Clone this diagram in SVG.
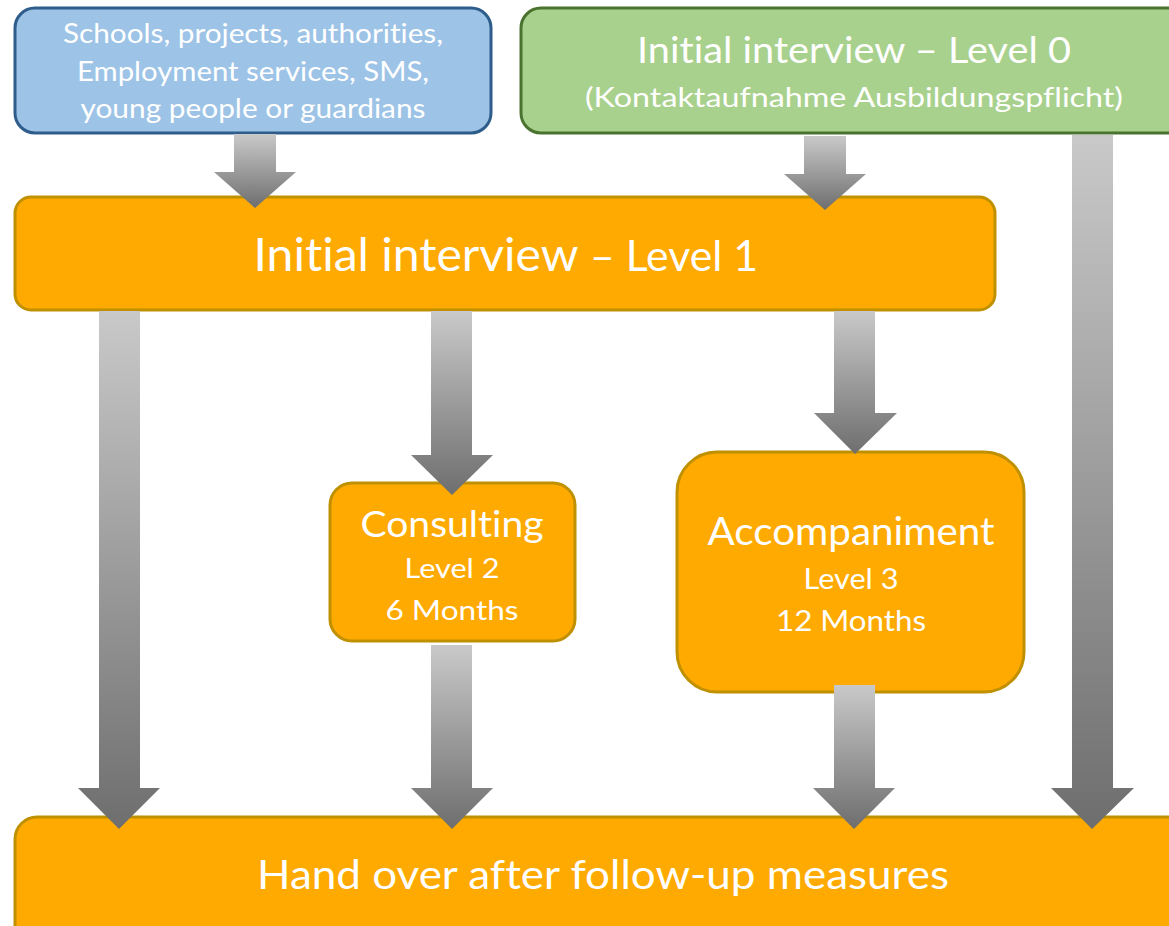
<svg xmlns="http://www.w3.org/2000/svg" width="1169" height="926" viewBox="0 0 1169 926">
<defs>
<linearGradient id="ag" x1="0" y1="0" x2="0" y2="1">
<stop offset="0" stop-color="#c9c9c9"/>
<stop offset="1" stop-color="#6e6e6e"/>
</linearGradient>
<style>
.t{font-family:Lato,"Open Sans","Liberation Sans",sans-serif;fill:#ffffff;text-anchor:middle;font-variant-ligatures:none}
.or{fill:#ffaa00;stroke:#bf9000;stroke-width:3}
.bl{fill:#9dc3e6;stroke:#2e5d8c;stroke-width:3}
.gr{fill:#a9d18e;stroke:#4a7330;stroke-width:3}
.ar{fill:url(#ag);stroke:none}
</style>
</defs>
<rect width="1169" height="926" fill="#ffffff"/>
<g id="node-sources">
<rect class="bl" x="15" y="8" width="476" height="125" rx="20"/>
<text class="t" font-size="27"><tspan x="253" y="43" textLength="380" lengthAdjust="spacingAndGlyphs">Schools, projects, authorities,</tspan><tspan x="253" y="81" textLength="352" lengthAdjust="spacingAndGlyphs">Employment services, SMS,</tspan><tspan x="253" y="118" textLength="345" lengthAdjust="spacingAndGlyphs">young people or guardians</tspan></text>
</g>
<g id="node-level0">
<rect class="gr" x="521" y="8" width="680" height="125" rx="20"/>
<text class="t" font-size="37" x="854" y="63" textLength="434" lengthAdjust="spacingAndGlyphs">Initial interview – Level 0</text>
<text class="t" font-size="27" x="854" y="107" textLength="538" lengthAdjust="spacingAndGlyphs">(Kontaktaufnahme Ausbildungspflicht)</text>
</g>
<g id="node-level1">
<rect class="or" x="15" y="197" width="980" height="113" rx="16"/>
<text class="t" font-size="46" x="416" y="271" textLength="325" lengthAdjust="spacingAndGlyphs">Initial interview</text>
<text class="t" font-size="43" x="674" y="271" textLength="168" lengthAdjust="spacingAndGlyphs">– Level 1</text>
</g>
<g id="node-consulting">
<rect class="or" x="330" y="483" width="245" height="158" rx="22"/>
<text class="t" font-size="37" x="452" y="537" textLength="183" lengthAdjust="spacingAndGlyphs">Consulting</text>
<text class="t" font-size="27" x="452" y="578" textLength="95" lengthAdjust="spacingAndGlyphs">Level 2</text>
<text class="t" font-size="27" x="452" y="620" textLength="133" lengthAdjust="spacingAndGlyphs">6 Months</text>
</g>
<g id="node-accompaniment">
<rect class="or" x="677" y="452" width="347" height="240" rx="40"/>
<text class="t" font-size="38" x="851" y="545" textLength="287" lengthAdjust="spacingAndGlyphs">Accompaniment</text>
<text class="t" font-size="29" x="851" y="589" textLength="95" lengthAdjust="spacingAndGlyphs">Level 3</text>
<text class="t" font-size="29" x="851" y="631" textLength="150" lengthAdjust="spacingAndGlyphs">12 Months</text>
</g>
<g id="node-handover">
<rect class="or" x="15" y="817" width="1190" height="140" rx="22"/>
<text class="t" font-size="40" x="603" y="889" textLength="692" lengthAdjust="spacingAndGlyphs">Hand over after follow-up measures</text>
</g>
<g id="connectors">
<polygon class="ar" points="234,134 276,134 276,172 296,172 255,208 214,172 234,172"/>
<polygon class="ar" points="804,136 846,136 846,174 866,174 825,210 784,174 804,174"/>
<polygon class="ar" points="1072,135 1113,135 1113,788 1134,788 1092,829 1051,788 1072,788"/>
<polygon class="ar" points="99,311 140,311 140,788 160,788 119,829 78,788 99,788"/>
<polygon class="ar" points="431,311 472,311 472,455 493,455 452,495 411,455 431,455"/>
<polygon class="ar" points="834,311 875,311 875,413 897,413 855,454 814,413 834,413"/>
<polygon class="ar" points="431,645 472,645 472,788 493,788 452,829 411,788 431,788"/>
<polygon class="ar" points="834,685 875,685 875,788 895,788 854,829 813,788 834,788"/>
</g>
</svg>
